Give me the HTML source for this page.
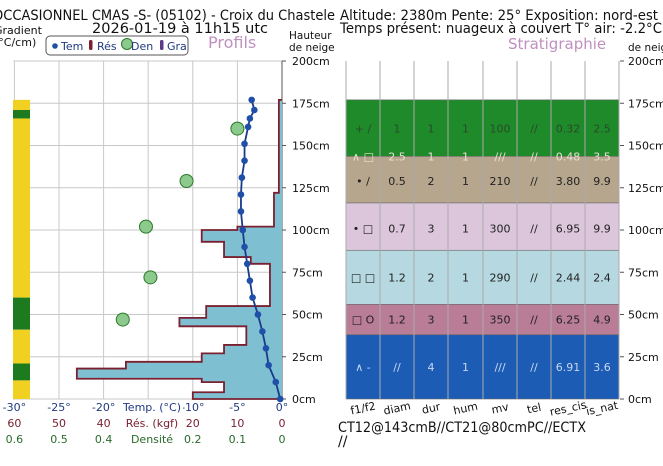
<!DOCTYPE html>
<html><head><meta charset="utf-8"><style>
body{margin:0;background:#fff;width:663px;height:461px;overflow:hidden;font-family:"Liberation Sans","DejaVu Sans",sans-serif}
svg text{font-family:"DejaVu Sans","Liberation Sans",sans-serif}
</style></head><body>
<svg id="c" width="663" height="461" xmlns="http://www.w3.org/2000/svg">
<text x="-7" y="20" font-size="14" textLength="342" lengthAdjust="spacingAndGlyphs" fill="#111">OCCASIONNEL CMAS -S- (05102) - Croix du Chastele</text>
<text x="340" y="20" font-size="14" textLength="318" lengthAdjust="spacingAndGlyphs" fill="#111">Altitude: 2380m Pente: 25° Exposition: nord-est</text>
<text x="92" y="33" font-size="14" textLength="176" lengthAdjust="spacingAndGlyphs" fill="#111">2026-01-19 à 11h15 utc</text>
<text x="340" y="33" font-size="14" textLength="322" lengthAdjust="spacingAndGlyphs" fill="#111">Temps présent: nuageux à couvert T° air: -2.2°C</text>
<text x="-6" y="34" font-size="11" fill="#111">Gradient</text>
<text x="-6" y="46" font-size="11" fill="#111">(°C/cm)</text>
<g>
<rect x="46" y="36" width="142" height="19" rx="4" fill="#fff" stroke="#555"/>
<circle cx="55" cy="46" r="2.8" fill="#1f4fa0"/><text x="61" y="50" font-size="11" fill="#1f3a80">Tem</text>
<rect x="89" y="40" width="3.5" height="10" rx="1.5" fill="#7a2030"/><text x="97" y="50" font-size="11" fill="#1f3a80">Rés</text>
<circle cx="127" cy="44" r="5.5" fill="#8cc98c" stroke="#2a7a2a"/><text x="131" y="50" font-size="11" fill="#1f3a80">Den</text>
<rect x="160" y="40" width="3.5" height="10" rx="1.5" fill="#5a3a8a"/><text x="167" y="50" font-size="11" fill="#1f3a80">Gra</text>
</g>
<text x="208" y="48" font-size="16" fill="#c090c0">Profils</text>
<text x="289" y="39" font-size="10.5" fill="#111">Hauteur</text>
<text x="289" y="51" font-size="10.5" fill="#111">de neige</text>
<text x="508" y="49" font-size="15" fill="#c090c0">Stratigraphie</text>
<text x="628" y="51" font-size="10.5" fill="#111">de neige</text>
<g id="left"></g><g id="right"></g>
<text x="338" y="432" font-size="14" textLength="248" lengthAdjust="spacingAndGlyphs" fill="#111">CT12@143cmB//CT21@80cmPC//ECTX</text>
<text x="338" y="446" font-size="14" fill="#111">//</text>
</svg>
<script>
const heightTicks=[0,25,50,75,100,125,150,175,200];
const tempTicks=[-30,-25,-20,-15,-10,-5,0];
const resTickLabels=["60","50","40","30","20","10","0"];
const denTickLabels=["0.6","0.5","0.4","0.3","0.2","0.1","0"];
const tempHeights=[177,171,166,161,151,141,131,121,111,100,90,80,70,60,50,40,30,20,10,0];
const tempValues=[-3.4,-3.1,-3.6,-3.8,-4.2,-4.2,-4.5,-4.6,-4.6,-4.4,-4.2,-3.9,-3.6,-3.3,-2.7,-2.2,-1.8,-1.5,-0.7,-0.2];
const denHeights=[160,129,102,72,47];
const denValues=[0.10,0.214,0.305,0.295,0.357];
const resTops=[177,122,102,100,93,84,80,55,48,43,32,27,22,18,12,10,4];
const resValues=[0.7,1.8,10,18,13,7,2.7,17,23,8,13,18,35,46,18,13,20];
const gradTops=[177,171,166,60,41,21,11];
const gradBottoms=[171,166,60,41,21,11,0];
const gradColors=["#f0d020","#1e7a1e","#f0d020","#1e7a1e","#f0d020","#1e7a1e","#f0d020"];
const layerTops=[177,143.6,116,88,56,38];
const layerBottoms=[143.6,116,88,56,38,0];
const layerColors=["#1f8a2a","#b6a68d","#dcc6dc","#b6d8e0","#b97d98","#1c5cb5"];
const layerTextColors=["#2a4a2a","#222","#222","#222","#222","#c8d8f0"];
const layerRows=[
 {h:160,v:["+ /","1","1","1","100","//","0.32","2.5"]},
 {h:143.6,v:["∧ □","2.5","1","1","///","//","0.48","3.5"],c:"#e8e0d0"},
 {h:129,v:["• /","0.5","2","1","210","//","3.80","9.9"]},
 {h:101,v:["• □","0.7","3","1","300","//","6.95","9.9"]},
 {h:72,v:["□ □","1.2","2","1","290","//","2.44","2.4"]},
 {h:47,v:["□ O","1.2","3","1","350","//","6.25","4.9"]},
 {h:19,v:["∧ -","//","4","1","///","//","6.91","3.6"]}
];
const columnNames=["f1/f2","diam","dur","hum","mv","tel","res_cis","is_nat"];
const NS="http://www.w3.org/2000/svg";
const y=h=>399-h*1.69;
const xT=t=>282+t*8.92;
const xR=r=>282-r*4.46;
const xD=d=>282-d*446;
function mk(tag,attrs,parent,txt){const e=document.createElementNS(NS,tag);for(const k in attrs)e.setAttribute(k,attrs[k]);if(txt!==undefined)e.textContent=txt;parent.appendChild(e);return e;}
const L=document.getElementById('left'),R=document.getElementById('right');
heightTicks.forEach(h=>{const g=mk('line',{x1:13,x2:282,y1:y(h),y2:y(h),stroke:'#c8c8c8','stroke-width':1},L);


const t=mk('text',{x:292,y:y(h)+4,'font-size':11,fill:'#111'},L,h+'cm');


const t2=mk('text',{x:628,y:y(h)+4,'font-size':11,fill:'#111'},R,h+'cm');


mk('line',{x1:282,x2:286,y1:y(h),y2:y(h),stroke:'#555'},L);mk('line',{x1:620,x2:624,y1:y(h),y2:y(h),stroke:'#555'},R);});
tempTicks.forEach((t,i)=>{const g=mk('line',{x1:xT(t),x2:xT(t),y1:61,y2:399,stroke:'#c8c8c8'},L);


const a=mk('text',{x:xT(t),y:411,'font-size':11,fill:'#1f3a80','text-anchor':'middle'},L,t+'°');


const b=mk('text',{x:xT(t),y:427,'font-size':11,fill:'#7a2030','text-anchor':'middle'},L,resTickLabels[i]);


const c=mk('text',{x:xT(t),y:443,'font-size':11,fill:'#2a6a2a','text-anchor':'middle'},L,denTickLabels[i]);

});
mk('line',{x1:282,x2:282,y1:61,y2:399,stroke:'#555'},L);
[["Temp. (°C)",411,'#1f3a80'],["Rés. (kgf)",427,'#7a2030'],["Densité",443,'#2a6a2a']].forEach(a=>{mk('rect',{x:121,y:a[1]-11,width:62,height:14,fill:'#fff'},L);const t=mk('text',{x:152,y:a[1],'font-size':11,fill:a[2],'text-anchor':'middle'},L,a[0]);

});
gradTops.forEach((t,i)=>{const r=mk('rect',{x:13,y:y(t),width:17,height:y(gradBottoms[i])-y(t),fill:gradColors[i]},L);

});
let d='M'+xR(0)+','+y(resTops[0]);
resTops.forEach((t,i)=>{const b=i<resTops.length-1?resTops[i+1]:0;d+=' L'+xR(resValues[i])+','+y(t)+' L'+xR(resValues[i])+','+y(b);});
d+=' L'+xR(0)+','+y(0);
const rp=mk('path',{d:d+' Z',fill:'#7fbfd2',stroke:'none'},L);


const ro=mk('path',{d:d,fill:'none',stroke:'#7a2030','stroke-width':1.8},L);


denHeights.forEach((h,i)=>{const c=mk('circle',{cx:xD(denValues[i]),cy:y(h),r:6.5,fill:'#8cc98c',stroke:'#2a7a2a'},L);

});
const tl=mk('polyline',{points:tempHeights.map((h,i)=>xT(tempValues[i])+','+y(h)).join(' '),fill:'none',stroke:'#1a3a8a','stroke-width':1.8},L);


tempHeights.forEach((h,i)=>{const c=mk('circle',{cx:xT(tempValues[i]),cy:y(h),r:3.3,fill:'#1f4fa8'},L);

});
const colX=[346,380,414,448,483,517,551,585,619];
layerTops.forEach((t,i)=>{const r=mk('rect',{x:346,y:y(t),width:273,height:y(layerBottoms[i])-y(t),fill:layerColors[i],stroke:'#666','stroke-width':0.6},R);

});
colX.forEach(x=>{const l=mk('line',{x1:x,x2:x,y1:61,y2:399,stroke:'#aaa'},R);

});
layerRows.forEach(row=>{let li=layerTops.findIndex((t,i)=>row.h<=t&&row.h>layerBottoms[i]);if(li<0)li=0;
row.v.forEach((v,j)=>{const t=mk('text',{x:(colX[j]+colX[j+1])/2,y:y(row.h)+4,'font-size':11,fill:row.c||layerTextColors[li],'text-anchor':'middle'},R,v);

});});
columnNames.forEach((n,j)=>{const cx=(colX[j]+colX[j+1])/2;const t=mk('text',{x:cx,y:412,'font-size':11,fill:'#111','text-anchor':'middle',transform:'rotate(-12 '+cx+' 408)'},R,n);

});
</script>
</body></html>
